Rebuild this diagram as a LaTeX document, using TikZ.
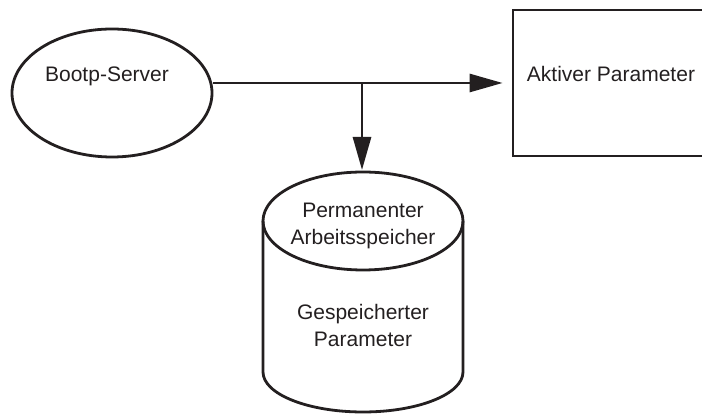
\documentclass[tikz,border=0pt]{standalone}
\usepackage{fontspec}
\setmainfont{Liberation Sans}
\usetikzlibrary{arrows.meta,shapes.geometric}
\definecolor{ink}{HTML}{231F20}

\begin{document}
\begin{tikzpicture}[x=1pt, y=1pt, line width=2.8pt, draw=ink, text=ink,
    font=\fontsize{21}{27}\selectfont,
    tip/.style={-{Triangle[length=33pt, width=18pt]}},
    lbl/.style={anchor=base, align=center, inner sep=0pt}]
    \useasboundingbox (0,0) rectangle (702,414);
    \node[ellipse, draw, minimum width=200pt, minimum height=128pt] (server) at (112,321) {};
    \node[draw, minimum width=207pt, minimum height=146pt] (active) at (616.5,331) {};
    \node[lbl] (servertxt) at (107,332) {Bootp-Server};
    \node[lbl] (activetxt) at (611,332) {Aktiver Parameter};
    % storage cylinder, drawn by hand
    \draw (263,193) -- (263,42) arc[start angle=180, end angle=360, x radius=100pt, y radius=40pt]
        -- (463,193);
    \draw (363,193) ellipse[x radius=100pt, y radius=49pt];
    % base of a two-line label is its last line
    \node[lbl] (permtxt) at (363,169) {Permanenter\\Arbeitsspeicher};
    \node[lbl] (savedtxt) at (363,67) {Gespeicherter\\Parameter};
    \coordinate (split) at (362,331);
    \coordinate (storetop) at (362,242);
    \draw[tip, shorten >=9pt] (server.east |- split) -- (active.west);
    \draw[tip, shorten >=2pt] (split) -- (storetop);
\end{tikzpicture}
\end{document}
